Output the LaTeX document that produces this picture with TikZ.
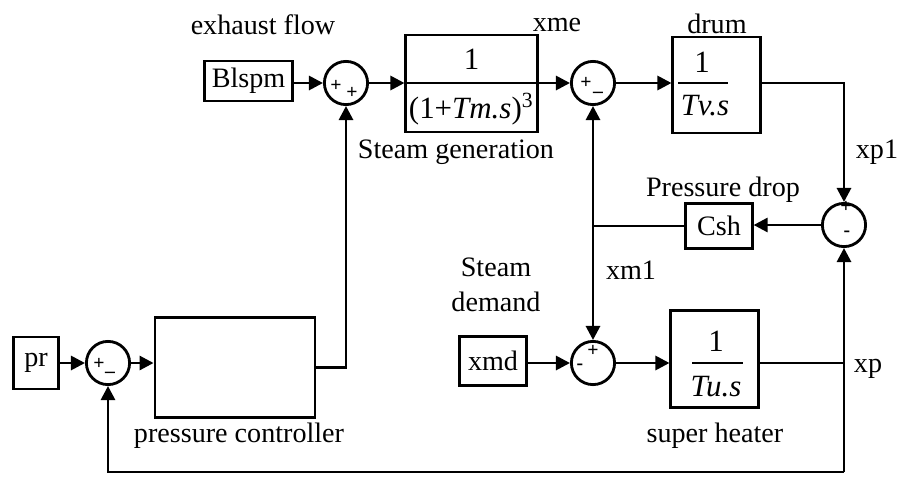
\documentclass[tikz,border=0pt]{standalone}
\usepackage{fontspec}
\setmainfont{Liberation Serif}
\usetikzlibrary{arrows.meta,positioning,calc}
\tikzset{
  sim block/.style={draw,line width=1pt,inner sep=1pt,align=center},
  sim sum/.style={circle,draw,line width=1pt,minimum size=5.4mm,inner sep=0pt},
  sim sign/.style={font=\scriptsize\bfseries,inner sep=0pt},
  sim frac/.style={inner sep=0pt,font=\fontsize{11}{13}\selectfont},
  sim label/.style={inner sep=0pt,align=center,font=\fontsize{10}{12.5}\selectfont},
  sim line/.style={line width=1pt},
  sim arrow/.style={-{Triangle[length=5pt,width=5pt]},line width=1pt}
}
\begin{document}
\begin{tikzpicture}[x=0.0125cm,y=-0.0125cm]
  \useasboundingbox (0,0) rectangle (902,484);
  % upper row
  \node[sim block,minimum width=10.9mm,minimum height=5mm] (blspm) at (248.5,81) {Blspm};
  \node[sim sum] (sum1) at (346,83) {};
  \node[sim block,minimum width=16.4mm,minimum height=12.1mm] (steamgen) at (471.5,83.5) {};
  \node[sim sum] (sum2) at (593,83) {};
  \node[sim block,minimum width=10.9mm,minimum height=12mm] (drum) at (716.5,85) {};
  % middle
  \node[sim sum] (sum3) at (844,225) {};
  \node[sim block,minimum width=8.3mm,minimum height=5.6mm] (csh) at (719,226) {Csh};
  % lower row
  \node[sim block,minimum width=5.6mm,minimum height=6.5mm] (pr) at (36,363) {pr};
  \node[sim sum] (sum5) at (108,363) {};
  \node[sim block,minimum width=20mm,minimum height=12.4mm] (ctrl) at (235,367.5) {};
  \node[sim block,minimum width=8.3mm,minimum height=6.2mm] (xmd) at (493,361) {xmd};
  \node[sim sum] (sum4) at (593,363) {};
  \node[sim block,minimum width=10.9mm,minimum height=12.2mm] (heater) at (714.5,359) {};

  % transfer functions
  \node[sim frac] at ($(steamgen)+(0,-24)$) {1};
  \draw[sim line] (steamgen.west |- sum2) -- (steamgen.east |- sum2);
  \node[sim frac] at ($(steamgen)+(0,26)$) {(1+\textit{Tm.s})\textsuperscript{3}};
  \node[sim frac] at (702,62) {1};
  \draw[sim line] (678,83) -- (728,83);
  \node[sim frac] at (705,106) {\textit{Tv.s}};
  \node[sim frac] at (716,341) {1};
  \draw[sim line] (692,363) -- (743,363);
  \node[sim frac] at (716,387) {\textit{Tu.s}};

  % signs
  \node[sim sign] at (336,86) {+};
  \node[sim sign] at (352,93) {+};
  \node[sim sign] at (586,83) {+};
  \node[sim sign] at (598,95) {--};
  \node[sim sign] at (846,207) {+};
  \node[sim sign] at (847,234) {-};
  \node[sim sign] at (593,351) {+};
  \node[sim sign] at (580,367) {-};
  \node[sim sign] at (99,364) {+};
  \node[sim sign] at (110,375) {--};

  % labels
  \node[sim label] at (263,25) {exhaust flow};
  \node[sim label] at (557,25) {xme};
  \node[sim label] at (717,24) {drum};
  \node[sim label] at (456,152) {Steam generation};
  \node[sim label] at (723,190) {Pressure drop};
  \node[sim label] at (877,152) {xp1};
  \node[sim label] at (631,270) {xm1};
  \node[sim label] at (496,285) {Steam\\demand};
  \node[sim label] at (868,369) {xp};
  \node[sim label] at (715,436) {super heater};
  \node[sim label] at (239,436) {pressure controller};

  % signal lines
  \coordinate (split) at (sum2 |- csh);
  \coordinate (fbright) at (sum3 |- 0,472);
  \coordinate (fbleft) at (sum5 |- fbright);
  \draw[sim arrow] (blspm.east |- sum1) -- (sum1);
  \draw[sim arrow] (sum1) -- (steamgen.west |- sum1);
  \draw[sim arrow] (steamgen.east |- sum2) -- (sum2);
  \draw[sim arrow] (sum2) -- (sum2 -| drum.west);
  \draw[sim arrow] (drum.east |- sum2) -| (sum3);
  \draw[sim arrow] (sum3) -- (sum3 -| csh.east);
  \draw[sim line] (csh.west) -- (split);
  \draw[sim arrow] (split) -- (sum2);
  \draw[sim arrow] (split) -- (sum4);
  \draw[sim arrow] (xmd.east |- sum4) -- (sum4);
  \draw[sim arrow] (sum4) -- (sum4 -| heater.west);
  \draw[sim line] (heater.east |- sum4) -- (sum4 -| sum3);
  \draw[sim arrow] (fbright) -- (sum3);
  \draw[sim arrow] (fbright) -- (fbleft) -- (sum5);
  \draw[sim arrow] (pr) -- (sum5);
  \draw[sim arrow] (sum5) -- (sum5 -| ctrl.west);
  \draw[sim arrow] (ctrl.east) -| (sum1);
\end{tikzpicture}
\end{document}
